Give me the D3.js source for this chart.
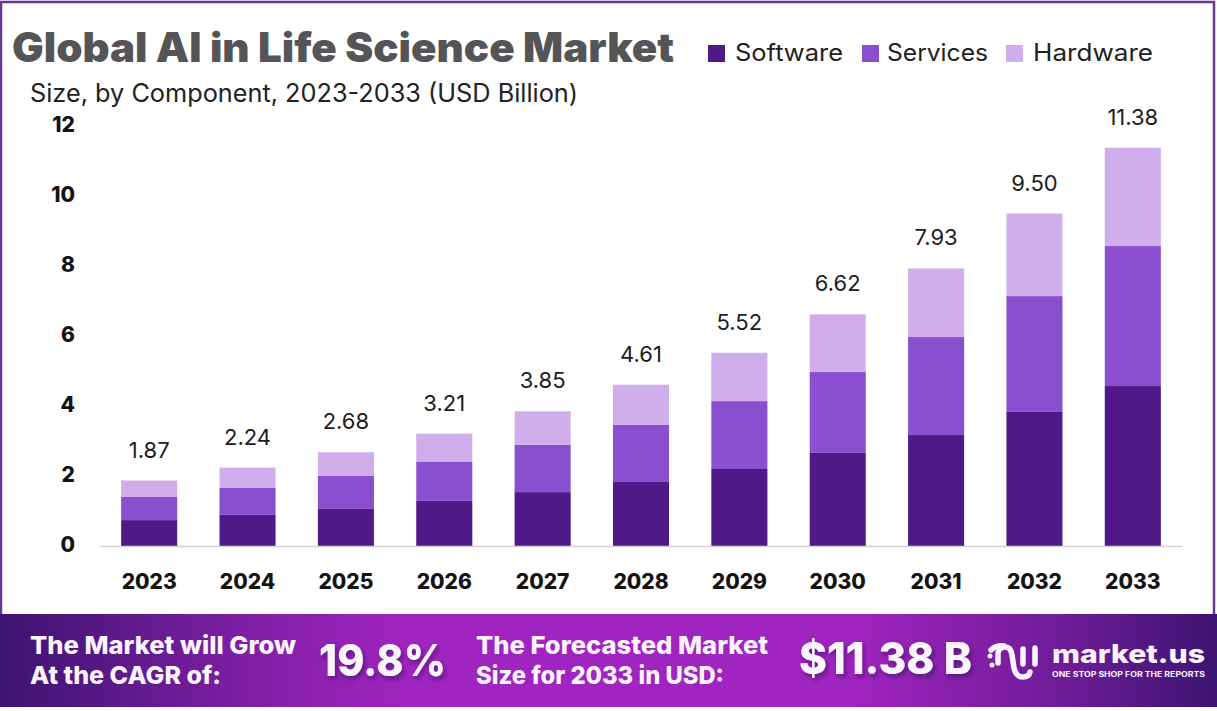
<!DOCTYPE html>
<html>
<head>
<meta charset="utf-8">
<script src="https://cdn.jsdelivr.net/npm/d3@7"></script>
<style>
  html, body { margin: 0; padding: 0; background: #fff; }
  svg { display: block; }
  text { font-family: Inter, "Open Sans", sans-serif; }
</style>
</head>
<body>
<svg width="1217" height="711"></svg>
<script>
var years = ['2023', '2024', '2025', '2026', '2027', '2028', '2029', '2030', '2031', '2032', '2033'];
var software = [0.74, 0.89, 1.06, 1.29, 1.54, 1.83, 2.20, 2.66, 3.17, 3.83, 4.57];
var services = [0.66, 0.77, 0.94, 1.11, 1.35, 1.63, 1.94, 2.31, 2.80, 3.31, 4.00];
var hardware = [0.47, 0.58, 0.68, 0.81, 0.96, 1.15, 1.38, 1.65, 1.96, 2.36, 2.81];
var totals = ['1.87', '2.24', '2.68', '3.21', '3.85', '4.61', '5.52', '6.62', '7.93', '9.50', '11.38'];
var yTicks = [0, 2, 4, 6, 8, 10, 12];
var seriesNames = ['Software', 'Services', 'Hardware'];
var seriesColors = ['#4f1a87', '#8a4fcf', '#d0aeec'];

var svg = d3.select('svg');
var defs = svg.append('defs');

var grad = defs.append('linearGradient').attr('id', 'banner');
grad.append('stop').attr('offset', '0').attr('stop-color', '#3d1470');
grad.append('stop').attr('offset', '0.2').attr('stop-color', '#7d1fa3');
grad.append('stop').attr('offset', '0.33').attr('stop-color', '#a024bf');
grad.append('stop').attr('offset', '0.7').attr('stop-color', '#a024bf');
grad.append('stop').attr('offset', '0.87').attr('stop-color', '#6f1c98');
grad.append('stop').attr('offset', '1').attr('stop-color', '#3d1470');

var shadow = defs.append('filter').attr('id', 'txtShadow')
    .attr('x', '-10%').attr('y', '-20%').attr('width', '120%').attr('height', '150%');
shadow.append('feDropShadow').attr('dx', 2).attr('dy', 3).attr('stdDeviation', 2)
    .attr('flood-color', '#2a0a50').attr('flood-opacity', 0.55);

// frame
svg.append('rect')
    .attr('x', 1).attr('y', 2).attr('width', 1213).attr('height', 640)
    .attr('fill', 'none').attr('stroke', '#653a8c').attr('stroke-width', 2.5);

// scales
var x = d3.scaleBand().domain(years).range([100, 1182]).paddingInner(0.43).paddingOuter(0.215);
var y = d3.scaleLinear().domain([0, 12]).range([546, 126]);

// stacked bars
var rows = years.map(function (d, i) {
    return { year: d, Software: software[i], Services: services[i], Hardware: hardware[i] };
});
var stacked = d3.stack().keys(seriesNames)(rows);

svg.append('g').selectAll('g')
    .data(stacked)
    .join('g')
    .attr('fill', function (d, i) { return seriesColors[i]; })
    .selectAll('rect')
    .data(function (d) { return d; })
    .join('rect')
    .attr('x', function (d) { return x(d.data.year); })
    .attr('y', function (d) { return y(d[1]); })
    .attr('width', x.bandwidth())
    .attr('height', function (d) { return y(d[0]) - y(d[1]); });

// x axis
var xAxis = svg.append('g')
    .attr('transform', 'translate(0,546)')
    .call(d3.axisBottom(x).tickSize(0).tickPadding(28));
xAxis.select('.domain').attr('stroke', '#d4d2d6').attr('stroke-width', 1.5);
xAxis.selectAll('text')
    .attr('fill', '#141414')
    .style('font-size', '21px')
    .style('font-weight', 800);

// y axis
var yAxis = svg.append('g')
    .attr('transform', 'translate(75,0)')
    .call(d3.axisLeft(y).tickValues(yTicks).tickSize(0).tickPadding(0));
yAxis.select('.domain').remove();
yAxis.selectAll('text')
    .attr('fill', '#141414')
    .attr('dy', '0.25em')
    .style('font-size', '21px')
    .style('font-weight', 800);

// total labels
svg.append('g').selectAll('text')
    .data(totals)
    .join('text')
    .attr('x', function (d, i) { return x(years[i]) + x.bandwidth() / 2; })
    .attr('y', function (d, i) { return y(software[i] + services[i] + hardware[i]) - 23; })
    .attr('text-anchor', 'middle')
    .attr('fill', '#1c1c1c')
    .style('font-size', '22px')
    .text(function (d) { return d; });

// title
svg.append('text')
    .attr('x', 12).attr('y', 62)
    .attr('fill', '#555558')
    .attr('textLength', 662).attr('lengthAdjust', 'spacingAndGlyphs')
    .style('font-size', '41px').style('font-weight', 900)
    .text('Global AI in Life Science Market');

svg.append('text')
    .attr('x', 30).attr('y', 102)
    .attr('fill', '#222')
    .attr('textLength', 548).attr('lengthAdjust', 'spacingAndGlyphs')
    .style('font-size', '25px')
    .text('Size, by Component, 2023-2033 (USD Billion)');

// legend
var legendX = [708, 862, 1006];
var legendTextX = [735, 887, 1033];
var legendW = [108, 101, 120];
var legend = svg.append('g').selectAll('g')
    .data(seriesNames)
    .join('g');
legend.append('rect')
    .attr('x', function (d, i) { return legendX[i]; })
    .attr('y', 45)
    .attr('width', 17).attr('height', 17)
    .attr('fill', function (d, i) { return seriesColors[i]; });
legend.append('text')
    .attr('x', function (d, i) { return legendTextX[i]; })
    .attr('y', 61)
    .attr('fill', '#222')
    .attr('textLength', function (d, i) { return legendW[i]; })
    .attr('lengthAdjust', 'spacingAndGlyphs')
    .style('font-size', '24px')
    .text(function (d) { return d; });

// bottom banner
svg.append('rect')
    .attr('x', 0).attr('y', 614).attr('width', 1217).attr('height', 93)
    .attr('fill', 'url(#banner)');

function bannerText(str, px, py, size, len, weight, withShadow) {
    var t = svg.append('text')
        .attr('x', px).attr('y', py)
        .attr('fill', '#fbf4ff')
        .attr('textLength', len).attr('lengthAdjust', 'spacingAndGlyphs')
        .style('font-size', size + 'px').style('font-weight', weight)
        .text(str);
    if (withShadow) t.attr('filter', 'url(#txtShadow)');
    return t;
}

bannerText('The Market will Grow', 30, 654, 25, 266, 800);
bannerText('At the CAGR of:', 30, 684, 25, 191, 800);
bannerText('19.8%', 319, 676, 44, 127, 800, true);
bannerText('The Forecasted Market', 476, 654, 25, 292, 800);
bannerText('Size for 2033 in USD:', 476, 684, 25, 248, 800);
bannerText('$11.38 B', 799, 674, 44, 173, 800, true);

// market.us logo
var logo = svg.append('g')
    .attr('fill', 'none').attr('stroke', '#fbf4ff').attr('stroke-width', 5.5).attr('stroke-linecap', 'round');
logo.append('path').attr('d', 'M991 650 Q996 645 1004 646');
logo.append('path').attr('d', 'M998 663 L998 653 Q999 647 1005 647 Q1011 647 1012 655 L1014 668 Q1016 677 1023 677 Q1029 677 1030 672');
logo.append('path').attr('d', 'M1023 649 L1023 664');
logo.append('path').attr('d', 'M1035 648 L1035 664');
logo.append('circle').attr('cx', 990).attr('cy', 656).attr('r', 2.5).attr('fill', '#fbf4ff').attr('stroke', 'none');
logo.append('circle').attr('cx', 992).attr('cy', 665).attr('r', 2.5).attr('fill', '#fbf4ff').attr('stroke', 'none');

bannerText('market.us', 1052, 663, 26, 153, 800);
bannerText('ONE STOP SHOP FOR THE REPORTS', 1052, 677, 7, 153, 700);
</script>
</body>
</html>
